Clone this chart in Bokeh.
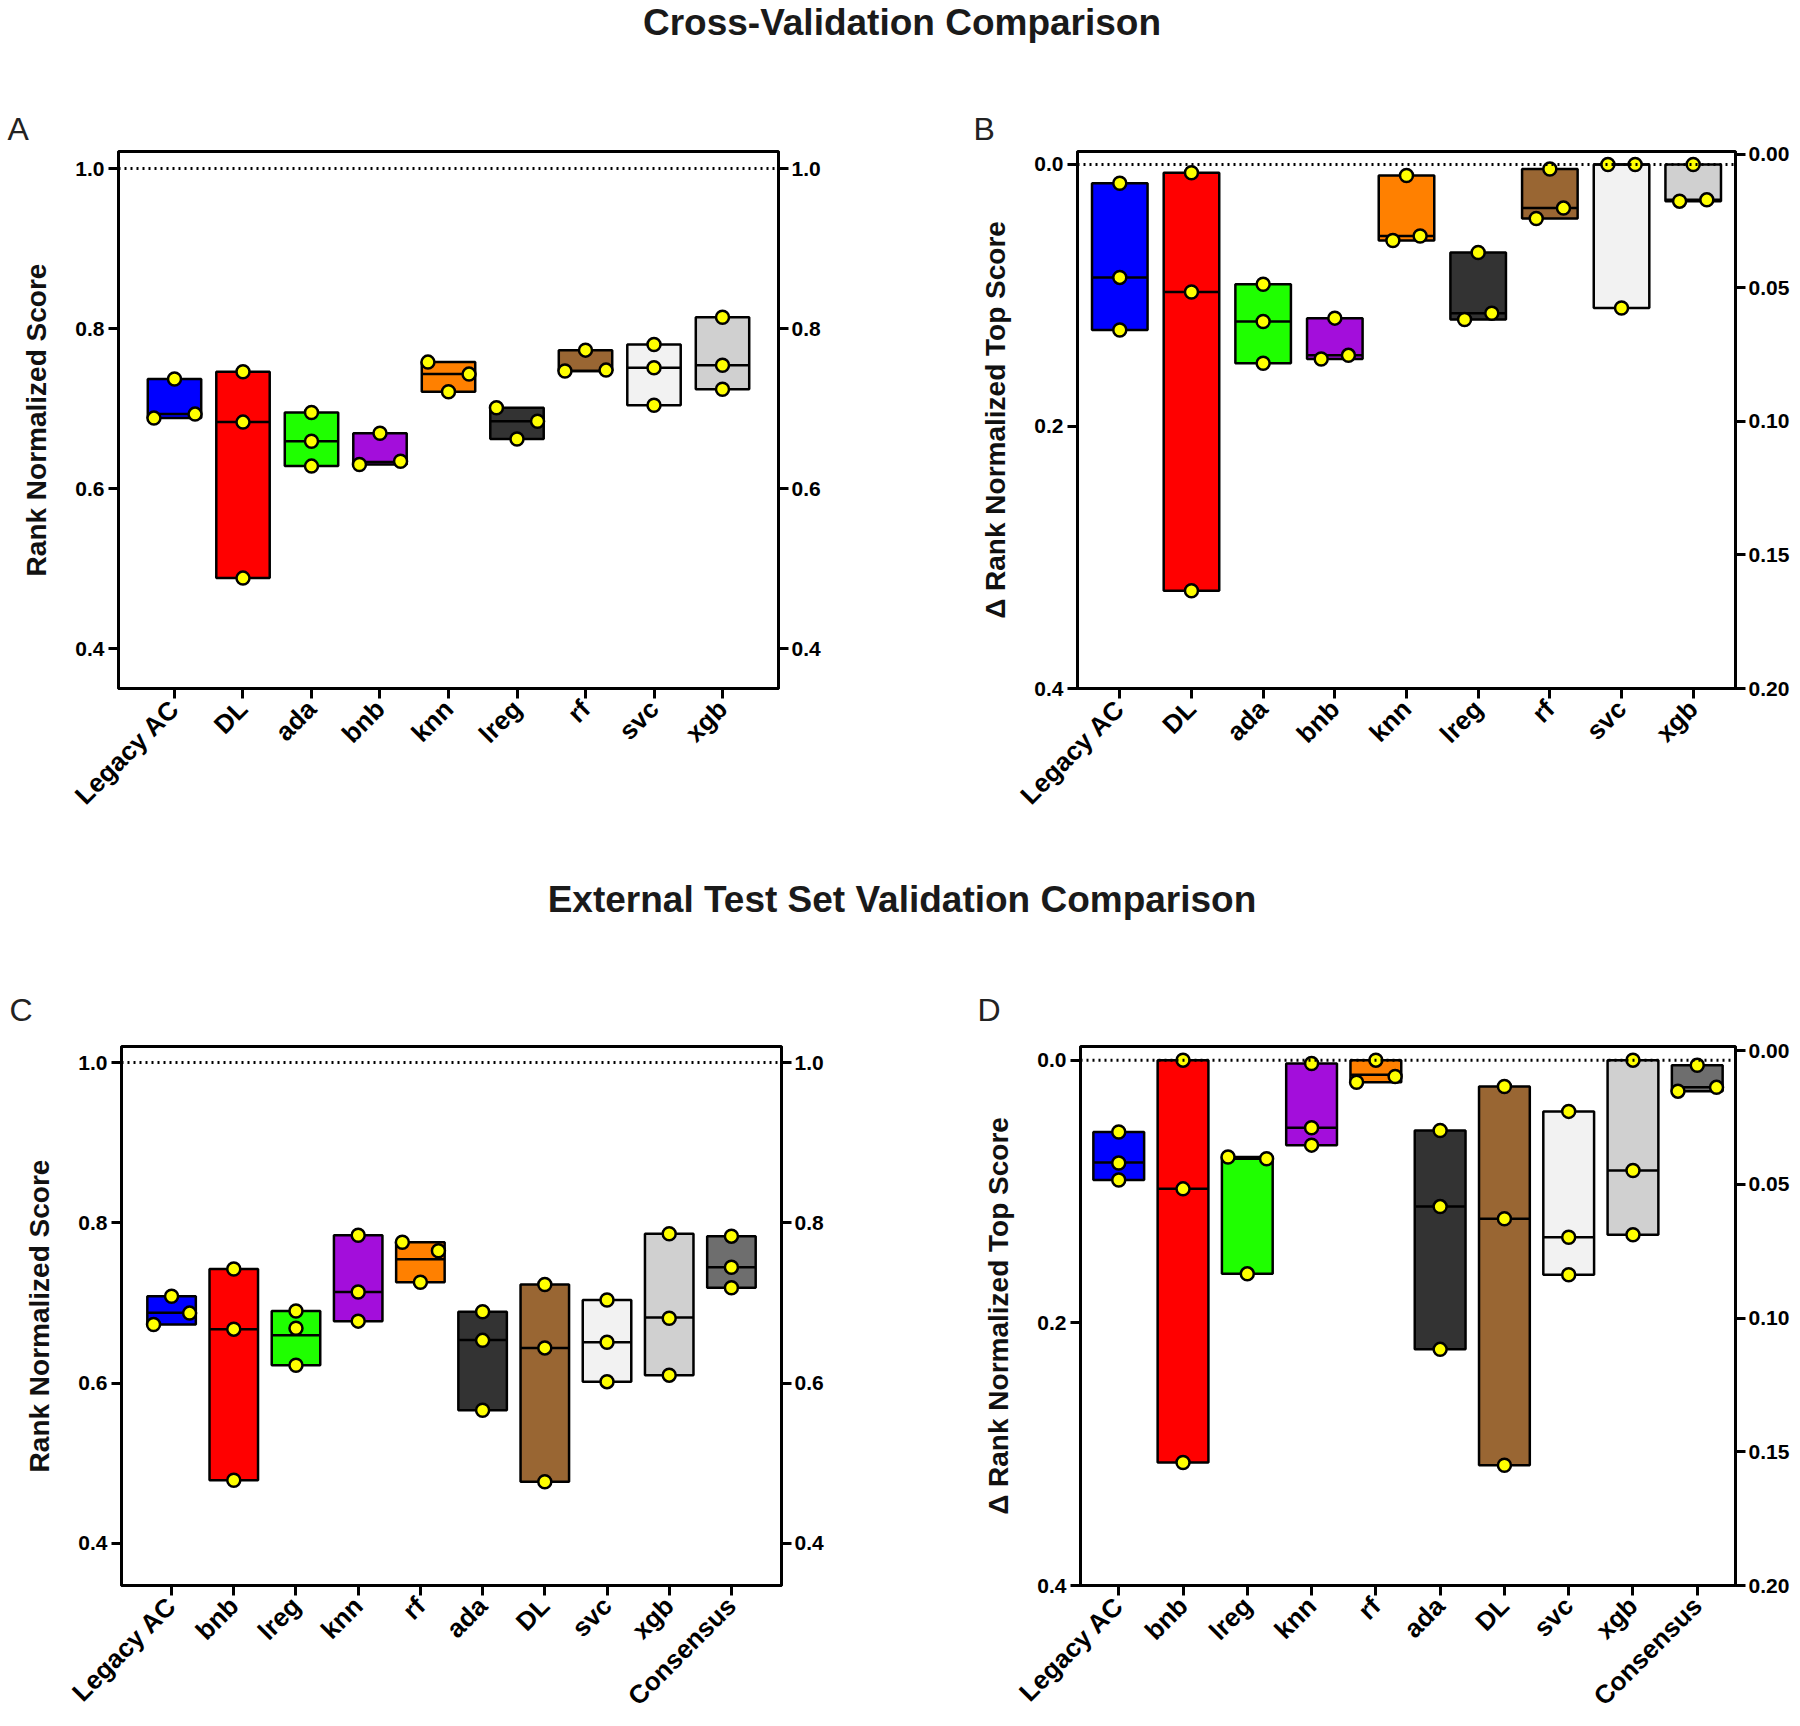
import math
from bokeh.plotting import figure
from bokeh.models import (FactorRange, Range1d, LinearAxis, FixedTicker, Span, Div,
                          ColumnDataSource, NumeralTickFormatter)
from bokeh.transform import dodge
from bokeh.layouts import column, row
from bokeh.embed import file_html
from bokeh.resources import INLINE

# ---------------- data ----------------
cv_models = ["Legacy AC", "DL", "ada", "bnb", "knn", "lreg", "rf", "svc", "xgb"]
ext_models = ["Legacy AC", "bnb", "lreg", "knn", "rf", "ada", "DL", "svc", "xgb", "Consensus"]
palette = ["#0000FF", "#FF0000", "#1FFF00", "#A30EDB", "#FF8000", "#333333",
           "#996633", "#F2F2F2", "#D0D0D0", "#6E6E6E"]

# A: cross-validation rank normalized score (3 folds per model)
cv_score_pts = [[0.737, 0.688, 0.693], [0.746, 0.683, 0.488], [0.695, 0.659, 0.628],
                [0.669, 0.630, 0.634], [0.758, 0.743, 0.721], [0.701, 0.684, 0.662],
                [0.773, 0.747, 0.748], [0.780, 0.751, 0.704], [0.814, 0.754, 0.724]]
cv_score_mid = [0.693, 0.683, 0.659, 0.633, 0.743, 0.684, 0.747, 0.751, 0.754]

# B: cross-validation delta rank normalized top score
cv_delta_pts = [[0.0144, 0.0862, 0.1264], [0.0063, 0.0974, 0.3254], [0.0914, 0.1198, 0.1517],
                [0.1173, 0.1485, 0.1457], [0.0084, 0.0581, 0.0546], [0.0672, 0.1184, 0.1135],
                [0.0035, 0.0413, 0.0333], [0.0, 0.0, 0.1096], [0.0, 0.028, 0.027]]
cv_delta_mid = [0.0862, 0.0974, 0.1198, 0.1457, 0.0546, 0.1135, 0.0333, 0.0, 0.027]

# C: external test set rank normalized score
ext_score_pts = [[0.7084, 0.6733, 0.6874], [0.7424, 0.6674, 0.4789], [0.690, 0.6686, 0.6224],
                 [0.7845, 0.7137, 0.6774], [0.7758, 0.7652, 0.726], [0.689, 0.6534, 0.5662],
                 [0.723, 0.644, 0.477], [0.7037, 0.651, 0.6019], [0.7863, 0.681, 0.610],
                 [0.7834, 0.7447, 0.719]]
ext_score_mid = [0.6879, 0.6674, 0.6598, 0.7137, 0.7547, 0.654, 0.644, 0.651, 0.682, 0.7447]

# D: external test set delta rank normalized top score
ext_delta_pts = [[0.0547, 0.0783, 0.0912], [0.0, 0.098, 0.3064], [0.0737, 0.0751, 0.1627],
                 [0.0025, 0.0515, 0.0647], [0.0, 0.0168, 0.0125], [0.0536, 0.1115, 0.2202],
                 [0.02, 0.1208, 0.3085], [0.039, 0.1348, 0.1634], [0.0, 0.084, 0.133],
                 [0.0039, 0.0236, 0.0207]]
ext_delta_mid = [0.0779, 0.098, 0.075, 0.0515, 0.0111, 0.1115, 0.1208, 0.1348, 0.084, 0.0207]

score_ticks = [0.4, 0.6, 0.8, 1.0]
delta_ticks = [0.0, 0.2, 0.4]
delta_right_ticks = [0.0, 0.05, 0.10, 0.15, 0.20]

FONT = "Liberation Sans"


def swarm_offsets(vals, span, d, thr=0.029):
    n = len(vals)
    order = sorted(range(n), key=lambda i: vals[i])
    groups, cur = [], [order[0]]
    for a, b in zip(order, order[1:]):
        if abs(vals[b] - vals[a]) / span < thr:
            cur.append(b)
        else:
            groups.append(cur)
            cur = [b]
    groups.append(cur)
    off = [0.0] * n
    for g in groups:
        g = sorted(g)
        k = len(g)
        if k > 1:
            for j, i in enumerate(g):
                off[i] = -d + j * 2 * d / (k - 1)
    return off


def style_axis(ax, size="21px", standoff=4):
    ax.axis_line_width = 3
    ax.axis_line_color = "black"
    ax.major_tick_line_width = 3
    ax.major_tick_line_color = "black"
    ax.major_tick_out = 10
    ax.major_tick_in = 0
    ax.minor_tick_line_color = None
    ax.major_label_text_font = FONT
    ax.major_label_text_font_style = "bold"
    ax.major_label_text_font_size = size
    ax.major_label_text_color = "black"
    ax.major_label_standoff = standoff


def make_panel(models, pts, mids, y_range, span, ticks, fmt, right_range, right_ticks,
               right_fmt, ref, width, height, borders, pad, box_w, dodge_w,
               letter, letter_offset, letter_standoff, ylabel):
    mb_left, mb_right, mb_top, mb_bottom = borders
    p = figure(x_range=FactorRange(*models, range_padding=pad, range_padding_units="absolute",
                                   factor_padding=0),
               y_range=y_range, width=width, height=height,
               output_backend="svg", toolbar_location=None,
               min_border_left=mb_left, min_border_right=mb_right,
               min_border_top=mb_top, min_border_bottom=mb_bottom, title=letter)
    p.title.text_font = FONT
    p.title.text_font_size = "32px"
    p.title.text_font_style = "normal"
    p.title.text_color = "#222222"
    p.title.align = "left"
    p.title.offset = letter_offset
    p.title.standoff = letter_standoff
    p.xgrid.visible = False
    p.ygrid.visible = False
    p.outline_line_color = "black"
    p.outline_line_width = 3
    p.outline_line_alpha = 1.0
    p.background_fill_color = "white"
    p.border_fill_color = "white"

    # left axis
    ya = p.yaxis[0]
    style_axis(ya)
    ya.ticker = FixedTicker(ticks=ticks)
    ya.formatter = NumeralTickFormatter(format=fmt)
    ya.axis_label = ylabel
    ya.axis_label_text_font = FONT
    ya.axis_label_text_font_style = "bold"
    ya.axis_label_text_font_size = "28px"
    ya.axis_label_text_color = "#111111"
    ya.axis_label_standoff = 20

    # right axis
    if right_range is not None:
        p.extra_y_ranges = {"right": right_range}
        ra = LinearAxis(y_range_name="right")
    else:
        ra = LinearAxis()
    style_axis(ra, standoff=3)
    ra.ticker = FixedTicker(ticks=right_ticks)
    ra.formatter = NumeralTickFormatter(format=right_fmt)
    p.add_layout(ra, "right")

    xa = p.xaxis[0]
    style_axis(xa, "26px", standoff=6)
    xa.major_label_orientation = math.pi / 4

    lo = [min(v) for v in pts]
    hi = [max(v) for v in pts]
    colors = palette[:len(models)]
    box_src = ColumnDataSource(dict(cat=models, lo=lo, hi=hi, mid=mids, color=colors))
    p.vbar(x="cat", top="hi", bottom="lo", width=box_w, fill_color="color",
           line_color="black", line_width=2.5, source=box_src)
    p.segment(x0=dodge("cat", -box_w / 2, range=p.x_range), y0="mid",
              x1=dodge("cat", box_w / 2, range=p.x_range), y1="mid",
              line_color="black", line_width=2.5, source=box_src)

    p.add_layout(Span(location=ref, dimension="width", line_color="black",
                      line_width=3, line_dash="2 4"))

    groups = {}
    for m, vals in zip(models, pts):
        offs = swarm_offsets(vals, span, dodge_w)
        for v, o in zip(vals, offs):
            key = round(o, 4)
            groups.setdefault(key, {"cat": [], "y": []})
            groups[key]["cat"].append(m)
            groups[key]["y"].append(v)
    for o, d in groups.items():
        p.scatter(x=dodge("cat", o, range=p.x_range), y="y", source=ColumnDataSource(d),
                  marker="circle", size=13, fill_color="#FFFF00", line_color="black",
                  line_width=2.5)
    return p


score_span = 1.02 - 0.35
delta_span = 0.4 + 0.0099

pA = make_panel(cv_models, cv_score_pts, cv_score_mid, Range1d(0.35, 1.0213), score_span,
                score_ticks, "0.0", None, score_ticks, "0.0", 1.0,
                960, 782, (118, 182, 81, 164), 0.3175, 0.78, 0.30,
                "A", -111, 10, "Rank Normalized Score")
pB = make_panel(cv_models, cv_delta_pts, cv_delta_mid, Range1d(0.4, -0.0099), delta_span,
                delta_ticks, "0.0", Range1d(0.2, -0.0011), delta_right_ticks, "0.00", 0.0,
                832, 782, (117, 55, 81, 164), 0.09, 0.775, 0.19,
                "B", -104, 10, "Δ Rank Normalized Top Score")
pC = make_panel(ext_models, ext_score_pts, ext_score_mid, Range1d(0.3476, 1.02), score_span,
                score_ticks, "0.0", None, score_ticks, "0.0", 1.0,
                960, 763, (121, 179, 85, 139), 0.305, 0.78, 0.29,
                "C", -112, 37, "Rank Normalized Score")
pD = make_panel(ext_models, ext_delta_pts, ext_delta_mid, Range1d(0.4, -0.0104), delta_span,
                delta_ticks, "0.0", Range1d(0.2, -0.0015), delta_right_ticks, "0.00", 0.0,
                832, 763, (120, 54, 85, 139), 0.095, 0.79, 0.30,
                "D", -103, 37, "Δ Rank Normalized Top Score")

t1 = Div(text='<div style="width:1784px;text-align:center;font-family:\'Liberation Sans\';'
              'font-weight:bold;font-size:37px;line-height:36px;padding-left:10px;'
              'color:#1a1a1a;">Cross-Validation Comparison</div>',
         width=1784, height=60)
t2 = Div(text='<div style="width:1784px;text-align:center;font-family:\'Liberation Sans\';'
              'font-weight:bold;font-size:37px;line-height:34px;padding-top:26px;'
              'padding-left:10px;color:#1a1a1a;">External Test Set Validation Comparison</div>',
         width=1784, height=99)

layout = column(t1, row(pA, pB), t2, row(pC, pD))

open("out.html", "w").write(file_html(layout, INLINE))
